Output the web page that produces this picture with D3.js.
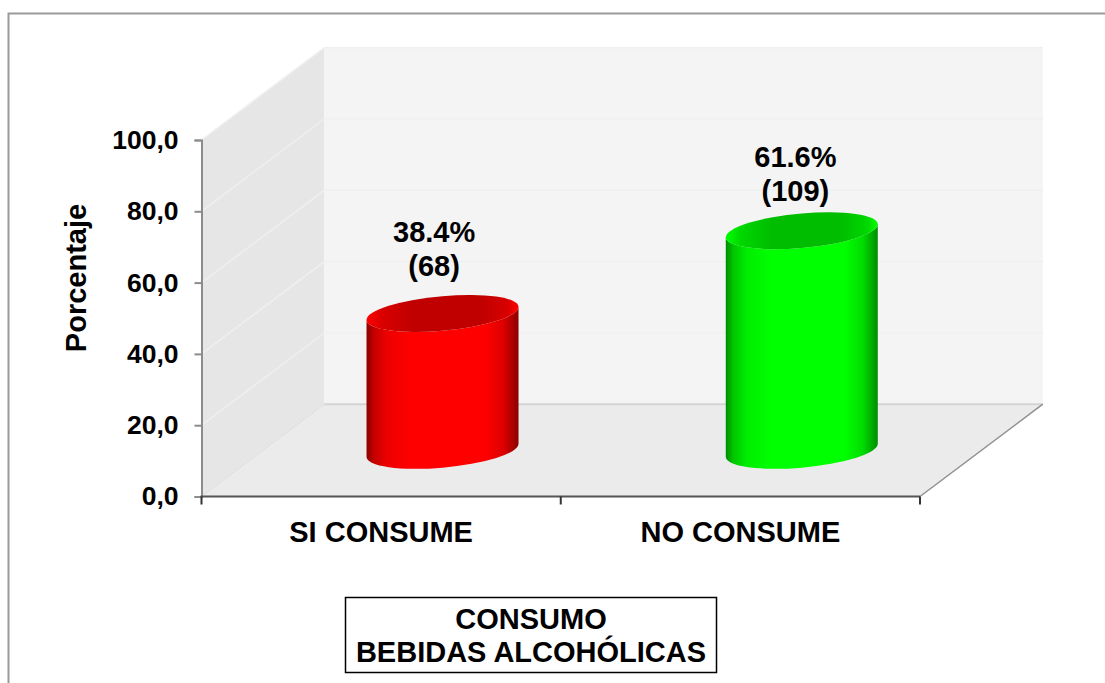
<!DOCTYPE html>
<html><head><meta charset="utf-8">
<script src="https://cdn.jsdelivr.net/npm/d3@7"></script>
<style>html,body{margin:0;padding:0;background:#fff}svg{display:block}text{font-family:"Liberation Sans",Arial,sans-serif;font-weight:bold;fill:#000}</style>
</head><body><svg id="c" width="1105" height="683"></svg>
<script>
const categories = ["SI CONSUME", "NO CONSUME"];
const percentages = [38.4, 61.6];
const counts = [68, 109];
const barColors = ["#ff0000", "#00ff00"];
const edgeColors = ["#8c0000", "#008c00"];
const topColors = ["#c00000", "#00bd00"];
const yTicks = [0, 20, 40, 60, 80, 100];
const legendLines = ["CONSUMO", "BEBIDAS ALCOHÓLICAS"];

const svg = d3.select("#c");
const x0 = 201.5, x1 = 920, y0 = 496.5, y100 = 140, dx = 122.8, dy = -92.3;
const x = d3.scaleBand().domain(categories).range([x0, x1]);
const y = d3.scaleLinear().domain([0, 100]).range([y0, y100]);
const poly = pts => "M" + pts.map(p => p.join(",")).join("L") + "Z";

// outer frame
svg.append("path").attr("d", "M8.5,683V13.5H1105").attr("fill", "none").attr("stroke", "#9a9a9a").attr("stroke-width", 2);

// walls
svg.append("path").attr("d", poly([[x0, y100], [x0 + dx, y100 + dy], [x0 + dx, y0 + dy], [x0, y0]])).attr("fill", "#e6e6e6");
svg.append("path").attr("d", poly([[x0 + dx, y100 + dy], [x1 + dx, y100 + dy], [x1 + dx, y0 + dy], [x0 + dx, y0 + dy]])).attr("fill", "#f4f4f4");
svg.append("path").attr("d", poly([[x0, y0], [x0 + dx, y0 + dy], [x1 + dx, y0 + dy], [x1, y0]])).attr("fill", "#ebebeb");

// grid
const grid = svg.append("g").attr("fill", "none").attr("stroke", "#efefef").attr("stroke-width", 1.5);
yTicks.filter(d => d > 0).forEach(d => {
  grid.append("path").attr("d", `M${x0},${y(d)}L${x0 + dx},${y(d) + dy}L${x1 + dx},${y(d) + dy}`);
});
svg.append("path").attr("d", `M${x0},${y0}L${x0 + dx},${y0 + dy}`).attr("stroke", "#d8d8d8").attr("stroke-width", 1).attr("stroke-dasharray", "2 1").attr("fill", "none");
svg.append("path").attr("d", `M${x0 + dx},${y0 + dy}H${x1 + dx}`).attr("stroke", "#d4d4d4").attr("stroke-width", 2).attr("fill", "none");
svg.append("path").attr("d", `M${x1},${y0}L${x1 + dx},${y0 + dy}`).attr("stroke", "#8f8f8f").attr("stroke-width", 1.5).attr("fill", "none");

// gradients
const defs = svg.append("defs");
categories.forEach((c, i) => {
  const mix = d3.interpolateRgb(edgeColors[i], barColors[i]);
  const g = defs.append("linearGradient").attr("id", "body" + i);
  [[0, edgeColors[i]], [.05, mix(.5)], [.14, mix(.85)], [.3, barColors[i]], [.78, barColors[i]], [.9, mix(.7)], [1, edgeColors[i]]]
    .forEach(s => g.append("stop").attr("offset", s[0]).attr("stop-color", s[1]));
  const t = defs.append("linearGradient").attr("id", "top" + i);
  [[0, barColors[i]], [.1, d3.interpolateRgb(barColors[i], topColors[i])(.6)], [.3, topColors[i]], [.75, topColors[i]], [.93, d3.interpolateRgb(barColors[i], topColors[i])(.6)], [1, barColors[i]]]
    .forEach(s => t.append("stop").attr("offset", s[0]).attr("stop-color", s[1]));
});

// cylinders
const rx = 76, ry = 17.3, shear = -6.5 / 76;
categories.forEach((c, i) => {
  const cx = x(c) + x.bandwidth() / 2 + dx / 2, cy = y0 + dy / 2;
  const h = y0 - y(percentages[i]);
  const g = svg.append("g").attr("transform", `matrix(1,${shear},0,1,${cx},${cy})`);
  g.append("path").attr("d", `M${-rx},${-h}V0A${rx},${ry} 0 0 0 ${rx},0V${-h}A${rx},${ry} 0 0 1 ${-rx},${-h}Z`).attr("fill", `url(#body${i})`);
  g.append("ellipse").attr("cx", 0).attr("cy", -h).attr("rx", rx).attr("ry", ry).attr("fill", `url(#top${i})`);
  const lx = x(c) + x.bandwidth() / 2 + 53 + (i ? 2 : 0);
  const ly = y(percentages[i]) + dy / 2 - (i ? 0 : 7);
  const tx = svg.append("text").attr("text-anchor", "middle").attr("font-size", 29);
  tx.append("tspan").attr("x", lx).attr("y", ly - 64).text(percentages[i].toFixed(1) + "%");
  tx.append("tspan").attr("x", lx).attr("y", ly - 30).text(`(${counts[i]})`);
});

// axes
const fmt = d => d.toFixed(1).replace(".", ",");
const ay = svg.append("g").attr("transform", `translate(${x0},0)`).call(d3.axisLeft(y).tickValues(yTicks).tickFormat(fmt).tickSize(7).tickPadding(16));
ay.select(".domain").attr("stroke", "#8c8c8c").attr("stroke-width", 2);
ay.selectAll(".tick line").attr("stroke", "#8c8c8c").attr("stroke-width", 2);
ay.selectAll("text").attr("font-size", 26.5).attr("font-family", null);

const ax = svg.append("g").attr("transform", `translate(0,${y0})`);
ax.append("line").attr("x1", x0 - 1).attr("x2", x1).attr("stroke", "#555").attr("stroke-width", 2);
const edges = [x0, x(categories[1]), x1];
edges.forEach(e => ax.append("line").attr("x1", e).attr("x2", e).attr("y1", 0).attr("y2", 8).attr("stroke", "#333").attr("stroke-width", 2));
categories.forEach(c => ax.append("text").attr("x", x(c) + x.bandwidth() / 2).attr("y", 45).attr("text-anchor", "middle").attr("font-size", 29).text(c));

svg.append("text").attr("transform", "translate(86,278) rotate(-90)").attr("text-anchor", "middle").attr("font-size", 29).text("Porcentaje");

// legend box
svg.append("rect").attr("x", 345.5).attr("y", 597.5).attr("width", 371).attr("height", 75).attr("fill", "#fff").attr("stroke", "#000").attr("stroke-width", 1.5);
legendLines.forEach((t, i) => svg.append("text").attr("x", 531).attr("y", 629 + i * 33).attr("text-anchor", "middle").attr("font-size", 29).text(t));
</script></body></html>
